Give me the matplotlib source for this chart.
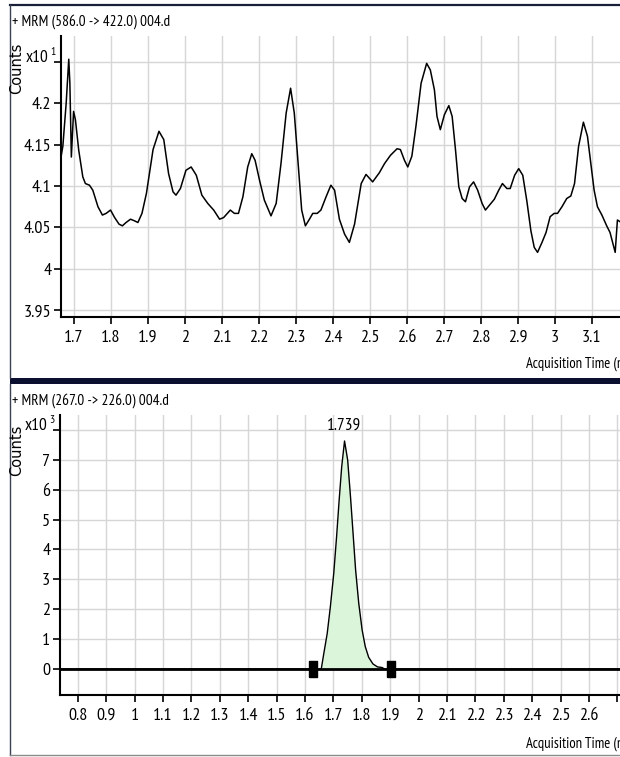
import matplotlib
matplotlib.use("Agg")
import matplotlib.pyplot as plt
from matplotlib import font_manager
from matplotlib.lines import Line2D
from matplotlib.patches import Rectangle

# MRM 586.0 -> 422.0 trace (counts x10^1)
top_time = [1.665, 1.670, 1.679, 1.686, 1.689, 1.693, 1.699, 1.704, 1.713, 1.724,
            1.731, 1.742, 1.751, 1.765, 1.777, 1.787, 1.799, 1.810, 1.822, 1.831,
            1.841, 1.853, 1.864, 1.873, 1.884, 1.896, 1.914, 1.930, 1.943, 1.956,
            1.968, 1.976, 1.988, 2.003, 2.017, 2.031, 2.046, 2.062, 2.078, 2.094,
            2.105, 2.123, 2.134, 2.145, 2.157, 2.170, 2.181, 2.190, 2.202, 2.215,
            2.233, 2.247, 2.260, 2.274, 2.286, 2.296, 2.307, 2.316, 2.326, 2.337,
            2.346, 2.358, 2.368, 2.382, 2.395, 2.405, 2.418, 2.432, 2.445, 2.459,
            2.477, 2.490, 2.508, 2.526, 2.540, 2.556, 2.574, 2.583, 2.594, 2.603,
            2.614, 2.625, 2.639, 2.654, 2.664, 2.675, 2.682, 2.691, 2.702, 2.714,
            2.723, 2.732, 2.741, 2.750, 2.759, 2.770, 2.781, 2.792, 2.804, 2.813,
            2.824, 2.837, 2.849, 2.859, 2.871, 2.880, 2.892, 2.903, 2.914, 2.925,
            2.936, 2.945, 2.954, 2.966, 2.977, 2.988, 2.999, 3.008, 3.020, 3.033,
            3.044, 3.054, 3.065, 3.078, 3.089, 3.098, 3.107, 3.116, 3.128, 3.141,
            3.150, 3.164, 3.170, 3.177]
top_counts = [4.135, 4.148, 4.200, 4.253, 4.224, 4.135, 4.190, 4.180, 4.143, 4.111,
              4.103, 4.101, 4.095, 4.075, 4.065, 4.067, 4.071, 4.062, 4.054, 4.052,
              4.056, 4.060, 4.058, 4.056, 4.067, 4.091, 4.144, 4.166, 4.156, 4.115,
              4.093, 4.089, 4.097, 4.119, 4.123, 4.113, 4.089, 4.079, 4.071, 4.060,
              4.062, 4.071, 4.067, 4.067, 4.087, 4.123, 4.139, 4.131, 4.107, 4.083,
              4.064, 4.079, 4.127, 4.188, 4.218, 4.188, 4.123, 4.071, 4.052, 4.060,
              4.067, 4.067, 4.071, 4.087, 4.101, 4.095, 4.060, 4.042, 4.032, 4.054,
              4.103, 4.114, 4.105, 4.116, 4.127, 4.137, 4.145, 4.144, 4.131, 4.123,
              4.136, 4.172, 4.224, 4.248, 4.240, 4.216, 4.184, 4.168, 4.186, 4.197,
              4.184, 4.144, 4.099, 4.085, 4.081, 4.099, 4.105, 4.095, 4.079, 4.071,
              4.077, 4.084, 4.095, 4.103, 4.097, 4.097, 4.113, 4.121, 4.113, 4.082,
              4.046, 4.026, 4.020, 4.032, 4.044, 4.063, 4.067, 4.067, 4.075, 4.085,
              4.088, 4.103, 4.148, 4.177, 4.160, 4.127, 4.095, 4.075, 4.065, 4.052,
              4.044, 4.020, 4.059, 4.057]

# MRM 267.0 -> 226.0 trace (counts x10^3)
bot_time = [0.737, 1.627, 1.657, 1.666, 1.678, 1.689, 1.701, 1.711, 1.720, 1.729,
            1.739, 1.750, 1.760, 1.769, 1.778, 1.789, 1.801, 1.812, 1.824, 1.839,
            1.855, 1.871, 1.880, 1.902, 2.709]
bot_counts = [0, 0, 0, 0.52, 1.19, 2.08, 3.20, 4.43, 5.65, 6.77,
              7.63, 6.99, 5.76, 4.54, 3.31, 2.20, 1.30, 0.75, 0.39, 0.17,
              0.07, 0.05, 0, 0, 0]
peak_rt = 1.739
peak_start, peak_end = 1.627, 1.902

top_xticks = [1.7, 1.8, 1.9, 2.0, 2.1, 2.2, 2.3, 2.4, 2.5, 2.6, 2.7, 2.8, 2.9, 3.0, 3.1]
top_yticks = [3.95, 4.0, 4.05, 4.1, 4.15, 4.2, 4.25]
bot_xticks = [0.8, 0.9, 1.0, 1.1, 1.2, 1.3, 1.4, 1.5, 1.6, 1.7, 1.8, 1.9, 2.0,
              2.1, 2.2, 2.3, 2.4, 2.5, 2.6, 2.7]
bot_yticks = [0, 1, 2, 3, 4, 5, 6, 7, 8]

# narrow sans for the labels, whichever is installed first
names = {f.name for f in font_manager.fontManager.ttflist}
narrow = "Liberation Sans"
for cand in ["Liberation Sans Narrow", "PT Sans Narrow", "Archivo Narrow",
             "Roboto Condensed", "Open Sans Condensed"]:
    if cand in names:
        narrow = cand
        break
plt.rcParams["font.family"] = [narrow, "DejaVu Sans"]

W, H = 620, 757


def fx(px):
    return px / W


def fy(py):
    return 1 - py / H


fig = plt.figure(figsize=(6.2, 7.57), dpi=100)
fig.patch.set_facecolor("white")


def style(ax, xticks, yticks, exponent, hide_last_x=False):
    for s in ("top", "right"):
        ax.spines[s].set_visible(False)
    for s in ("left", "bottom"):
        ax.spines[s].set_linewidth(1.5)
    xlabels = [f"{v:g}" for v in xticks]
    if hide_last_x:
        xlabels[-1] = ""
    ax.set_xticks(xticks)
    ax.set_xticklabels(xlabels)
    ax.set_yticks(yticks)
    ax.set_yticklabels([f"{v:g}" for v in yticks[:-1]] + [""])
    ax.grid(True, color="#d6d6d6", lw=1)
    ax.set_axisbelow(True)
    ax.tick_params(direction="out", length=5, width=1.2, labelsize=13)
    ax.tick_params(axis="x", pad=4)
    ax.tick_params(axis="y", pad=2)
    ax.annotate("x10", xy=(0, yticks[-1]), xycoords=("axes fraction", "data"),
                xytext=(-13, 4), textcoords="offset pixels", ha="right", va="center",
                fontsize=12.5)
    ax.annotate(exponent, xy=(0, yticks[-1]), xycoords=("axes fraction", "data"),
                xytext=(-8, 10), textcoords="offset pixels", ha="center", va="center",
                fontsize=8.5)


# upper chromatogram
ax1 = fig.add_axes([fx(61), fy(317), fx(620) - fx(61), fy(36) - fy(317)])
ax1.plot(top_time, top_counts, color="black", lw=1.1)
ax1.set_xlim(1.665, 3.177)
ax1.set_ylim(3.942, 4.281)
style(ax1, top_xticks, top_yticks, "1")

# lower chromatogram with integrated peak
ax2 = fig.add_axes([fx(60), fy(695), fx(620) - fx(60), fy(415) - fy(695)])
ax2.fill_between(bot_time, bot_counts, 0,
                 where=[peak_start <= t <= peak_end for t in bot_time],
                 color="#dbf5db", lw=0)
ax2.axhline(0, color="black", lw=2)
ax2.plot(bot_time, bot_counts, color="black", lw=1)
box = [(-1, -2.3), (1, -2.3), (1, 2.3), (-1, 2.3), (-1, -2.3)]
ax2.plot([peak_start, peak_end], [0, 0], ls="none", marker=box, markersize=12,
         color="black")
ax2.annotate(f"{peak_rt:.3f}", xy=(peak_rt, max(bot_counts)), xytext=(0, 15),
             textcoords="offset pixels", ha="center", va="center", fontsize=12.5)
ax2.set_xlim(0.737, 2.709)
ax2.set_ylim(-0.87, 8.5)
style(ax2, bot_xticks, bot_yticks, "3", hide_last_x=True)

# panel titles and axis captions
for ty, cy, title in [(22, 68, "+ MRM (586.0 -> 422.0) 004.d"),
                      (401, 450, "+ MRM (267.0 -> 226.0) 004.d")]:
    fig.text(fx(12), fy(ty), title, ha="left", va="center", fontsize=11)
    fig.text(fx(17), fy(cy), "Counts", rotation=90, ha="center", va="center",
             fontsize=10.5, family="DejaVu Sans")
for ay in (364, 744):
    fig.text(fx(526), fy(ay), "Acquisition Time (min)", ha="left", va="center",
             fontsize=10.5)

# window frames
frame = "#3a3f52"
fig.add_artist(Line2D([fx(10), fx(620)], [fy(5), fy(5)], color="#1a1f38", lw=1.6))
fig.add_artist(Line2D([fx(10), fx(10)], [fy(5), fy(378)], color=frame, lw=1))
fig.add_artist(Rectangle((fx(10), fy(384)), fx(620) - fx(10), fy(378) - fy(384),
                         transform=fig.transFigure, color="#0c1030", lw=0))
fig.add_artist(Line2D([fx(10), fx(10)], [fy(384), fy(755)], color=frame, lw=1))
fig.add_artist(Line2D([fx(10), fx(620)], [fy(755), fy(755)], color="#8a8a8a", lw=1))

fig.savefig("out.png", dpi=100)
